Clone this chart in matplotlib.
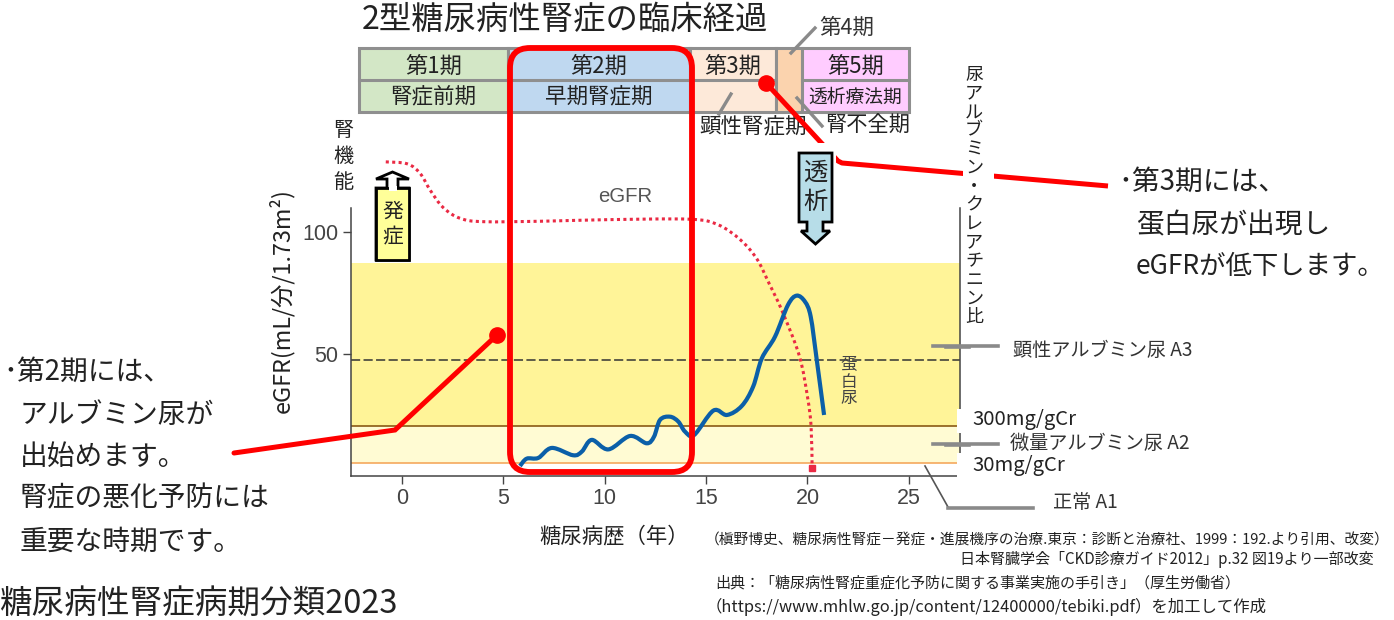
import matplotlib
matplotlib.use('Agg')
import matplotlib.pyplot as plt
from matplotlib.path import Path
from matplotlib.patches import PathPatch, Rectangle, FancyBboxPatch, Polygon

plt.rcParams['font.family'] = ['Noto Sans CJK JP', 'DejaVu Sans']

# values
years_blue = [5.82, 6.15, 6.72, 7.39, 8.44, 8.87, 9.36, 10.18, 11.25, 12.07, 12.43, 12.73, 13.22, 13.63,
              13.96, 14.41, 15.36, 16.03, 16.76, 17.32, 17.75, 18.40, 19.04, 19.47, 19.88, 20.16, 20.46, 20.82]
albumin = [4.1, 7.1, 7.4, 11.5, 8.5, 10.0, 14.8, 10.9, 16.4, 13.4, 16.1, 23.0, 24.3, 22.3,
           18.2, 16.8, 26.8, 25.0, 28.7, 36.6, 48.2, 57.1, 70.1, 73.9, 71.4, 65.3, 47.5, 25.0]
years_egfr = [-0.8, 0.26, 0.89, 1.4, 2.03, 2.86, 4, 7, 10, 14.2, 15.6, 16.7, 17.5, 18.09, 18.75, 19.6, 20.01, 20.18, 20.23]
egfr = [128.7, 127.9, 124, 117, 110, 105.6, 104.2, 104.4, 105, 105.2, 102.9, 96.7, 89, 79.2, 67.6, 49.2, 32, 20.2, 3.1]

x_ticks = [0, 5, 10, 15, 20, 25]
y_ticks = [50, 100]
band_a3_top = 87.2
limit_300 = 20.5
limit_30 = 5.3
proteinuria_line = 47.5

stage_names = ['第1期', '第2期', '第3期', '', '第5期']
stage_labels = ['腎症前期', '早期腎症期', '', '', '透析療法期']
stage_edges = [359, 508, 690, 776, 802, 909]
stage_colors = ['#d3e7c6', '#bfd8f0', '#fde9d9', '#fbd3ae', '#ffccff']

left_note = ['･第2期には、', 'アルブミン尿が', '出始めます。', '腎症の悪化予防には', '重要な時期です。']
right_note = ['･第3期には、', '蛋白尿が出現し', 'eGFRが低下します。']
side_label = '尿アルブミン・クレアチニン比'


def smooth(xs, ys):
    # catmull-rom through the read points, as bezier segments
    pts = list(zip(xs, ys))
    verts = [pts[0]]
    codes = [Path.MOVETO]
    for i in range(len(pts) - 1):
        p0 = pts[max(i - 1, 0)]
        p1 = pts[i]
        p2 = pts[i + 1]
        p3 = pts[min(i + 2, len(pts) - 1)]
        c1 = (p1[0] + (p2[0] - p0[0]) / 6, p1[1] + (p2[1] - p0[1]) / 6)
        c2 = (p2[0] - (p3[0] - p1[0]) / 6, p2[1] - (p3[1] - p1[1]) / 6)
        verts += [c1, c2, p2]
        codes += [Path.CURVE4] * 3
    return Path(verts, codes)


W, H = 1394, 620
fig = plt.figure(figsize=(W / 100, H / 100), dpi=100)

# chart axes placed at the pixel box of the plot
left, right, top, bottom = 350.5, 959.5, 208, 476
ax = fig.add_axes([left / W, 1 - bottom / H, (right - left) / W, (bottom - top) / H])
ax.set_xlim(-2.54, 27.5)
ax.set_ylim(0, 109.8)
ax.patch.set_alpha(0)
ax.axhspan(limit_300, band_a3_top, color='#fff498', lw=0, zorder=1)
ax.axhspan(limit_30, limit_300, color='#fffbd3', lw=0, zorder=1)
ax.axhline(limit_300, color='#8a5a14', lw=1.2, zorder=2)
ax.axhline(limit_30, color='#f5a95e', lw=1.2, zorder=2)
ax.axhline(proteinuria_line, color='#333333', lw=1.1, linestyle=(0, (6, 2.2)), zorder=2)

ax.spines['top'].set_visible(False)
for s in ['left', 'right', 'bottom']:
    ax.spines[s].set_color('#444444')
    ax.spines[s].set_linewidth(1.1)
ax.set_xticks(x_ticks)
ax.set_yticks(y_ticks)
ax.tick_params(axis='both', length=6, width=1, color='#444444', labelcolor='#444444', labelsize=15.5, pad=3)
for lab in ax.get_xticklabels() + ax.get_yticklabels():
    lab.set_fontfamily('Liberation Sans')

ax.add_patch(PathPatch(smooth(years_egfr, egfr), fill=False, ec='#ea2a44', lw=2.2,
                       linestyle=(0, (1, 1.1)), capstyle='butt', zorder=3, clip_on=False))
ax.plot(years_egfr[-1], egfr[-1], 's', color='#ea2a44', ms=4.5, zorder=3)
ax.add_patch(PathPatch(smooth(years_blue, albumin), fill=False, ec='#0b5fa8', lw=3,
                       capstyle='butt', joinstyle='round', zorder=4))

# overlay in picture pixels for the table, callouts and notes
ov = fig.add_axes([0, 0, 1, 1], zorder=5)
ov.set_xlim(0, W)
ov.set_ylim(H, 0)
ov.axis('off')


def txt(x, y, s, size, color='#222222', ha='left', **kw):
    # noto sits a little high with va center, push it down
    return ov.text(x, y + 2, s, ha=ha, va='center', fontsize=size, color=color, **kw)


# white cut-outs on the right side
ov.add_patch(Rectangle((957, 409), 60, 24, fc='white', ec='none', zorder=1))
ov.add_patch(Rectangle((957, 453), 60, 30, fc='white', ec='none', zorder=1))

# stage table
row_y = [48, 80, 112]
grid = '#8f8f8f'
for i, c in enumerate(stage_colors):
    x0, x1 = stage_edges[i], stage_edges[i + 1]
    ov.add_patch(Rectangle((x0, row_y[0]), x1 - x0, row_y[2] - row_y[0], fc=c, ec=grid, lw=2.2, zorder=2))
    if i != 3:
        ov.plot([x0, x1], [row_y[1], row_y[1]], color=grid, lw=2.2, zorder=2)
    xm = (x0 + x1) / 2
    txt(xm, 64, stage_names[i], 16, ha='center', zorder=3)
    txt(xm, 95, stage_labels[i], 13.5 if i == 4 else 15.5, ha='center', zorder=3)

# title and stage leaders
txt(362, 18, '2型糖尿病性腎症の臨床経過', 23.3)
txt(819, 26, '第4期', 15.5, color='#333333')
txt(699, 125, '顕性腎症期', 15.5)
txt(825, 124, '腎不全期', 15.3)
ov.plot([815, 791], [28, 53], color='#8a8a8a', lw=2.4, zorder=4)
ov.plot([731, 719], [94, 114], color='#8a8a8a', lw=2.4, zorder=4)
ov.plot([797, 822], [98, 126], color='#8a8a8a', lw=2.4, zorder=4)

# red highlight and callouts
red = '#ff0000'
ov.add_patch(FancyBboxPatch((526, 64), 150, 392, boxstyle='round,pad=16,rounding_size=20', fc='none', ec=red,
                            lw=4.2, zorder=6))
ov.plot([234, 395, 497], [453, 430, 335], color=red, lw=3.6, solid_capstyle='round', solid_joinstyle='miter', zorder=6)
ov.plot([497], [335], 'o', color=red, ms=11, zorder=6)
ov.plot([766, 838, 842, 1108], [83, 161, 163, 186], color=red, lw=3.6, solid_capstyle='butt',
        solid_joinstyle='round', zorder=6)
ov.plot([766], [83], 'o', color=red, ms=11, zorder=6)
ov.add_patch(Rectangle((963, 60), 31, 135, fc='white', ec='none', zorder=7))

# arrows
ov.add_patch(Polygon([(376, 260), (409, 260), (409, 188), (398, 188), (398, 179), (409, 179), (392.5, 172),
                      (376, 179), (387, 179), (387, 188), (376, 188)], closed=True, fc='white', ec='black', lw=2,
                     joinstyle='miter', zorder=7))
ov.add_patch(Rectangle((376, 188), 33, 72, fc='#ffff99', ec='black', lw=2, zorder=7))
ov.add_patch(Rectangle((388.5, 186), 8, 5, fc='white', ec='none', zorder=7))
txt(392.5, 210, '発', 15, ha='center', zorder=8)
txt(392.5, 235, '症', 15, ha='center', zorder=8)

ov.add_patch(Rectangle((790, 143), 46, 103, fc='white', ec='none', zorder=7))
ov.add_patch(Polygon([(799, 153), (832, 153), (832, 222), (823, 222), (823, 231), (830, 231), (815.5, 244),
                      (801, 231), (807, 231), (807, 222), (799, 222)], closed=True, fc='#b7dde8', ec='black', lw=2,
                     joinstyle='miter', zorder=7))
txt(815.5, 171, '透', 17.5, ha='center', zorder=8)
txt(815.5, 200, '析', 17.5, ha='center', zorder=8)

# vertical labels, one character per row
for ch, y in zip('腎機能', [128, 155, 181]):
    txt(343, y, ch, 14.5, ha='center')
for i, ch in enumerate(side_label):
    txt(974, 73 + 18.6 * i, ch, 13, ha='center', zorder=8)
for ch, y in zip('蛋白尿', [363, 380, 397]):
    txt(849, y, ch, 12, color='#444444', ha='center')

ov.text(625, 196, 'eGFR', ha='center', va='center', fontsize=14.7, color='#555555', family='Liberation Sans')
ov.text(281, 301, 'eGFR(mL/分/1.73m²)', rotation=90, ha='center', va='center', fontsize=16.8, color='#222222')
txt(539, 535, '糖尿病歴（年）', 15.4)

# albumin class labels
ov.plot([933, 998], [346, 346], color='#8a8a8a', lw=2.6, zorder=4)
ov.plot([946, 969], [347, 347], color='#8a8a8a', lw=2.6, zorder=4)
ov.plot([933, 998], [444, 444], color='#8a8a8a', lw=2.6, zorder=4)
ov.plot([946, 969], [445, 445], color='#8a8a8a', lw=2.6, zorder=4)
ov.plot([925, 948], [466, 507], color='#555555', lw=1.2, zorder=4)
ov.plot([948, 1033], [508, 508], color='#8a8a8a', lw=2.6, zorder=4)
txt(1013, 348, '顕性アルブミン尿 A3', 13.8, color='#333333')
txt(972, 418, '300mg/gCr', 14.6)
txt(1010, 441, '微量アルブミン尿 A2', 13.8, color='#333333')
txt(972, 463, '30mg/gCr', 14.6)
txt(1053, 500, '正常 A1', 13.8, color='#333333')

# notes
for line, x, y in zip(left_note, [3, 20, 20, 20, 20], [370, 413, 455, 496, 540]):
    txt(x, y, line, 20)
txt(1118, 180, right_note[0], 20)
txt(1136, 223, right_note[1], 20)
txt(1136, 264, right_note[2], 19)
txt(0, 603, '糖尿病性腎症病期分類2023', 23.5)

# sources
txt(705, 539, '（槇野博史、糖尿病性腎症－発症・進展機序の治療.東京：診断と治療社、1999：192.より引用、改変）', 10.6)
txt(1374, 558, '日本腎臓学会「CKD診療ガイド2012」p.32 図19より一部改変', 10.85, ha='right')
txt(715, 581, '出典：「糖尿病性腎症重症化予防に関する事業実施の手引き」（厚生労働省）', 10.85)
txt(706, 605, '（https://www.mhlw.go.jp/content/12400000/tebiki.pdf）を加工して作成', 11.8)

fig.savefig('out.png', dpi=100)
